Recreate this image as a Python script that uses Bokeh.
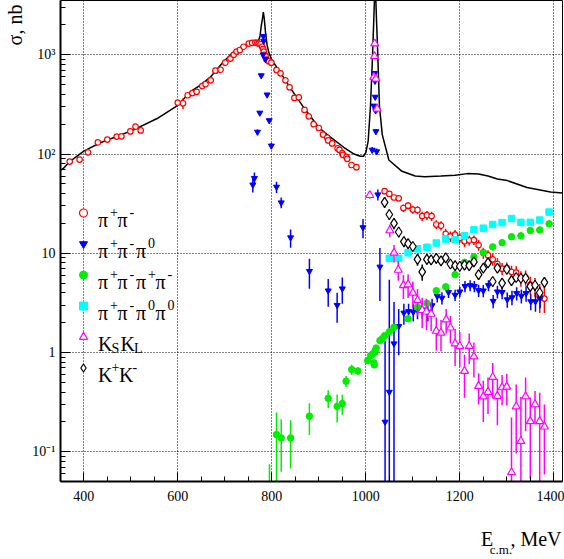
import numpy as np
from bokeh.plotting import figure
from bokeh.models import (Range1d, FixedTicker, Legend, LegendItem, Label, ColumnDataSource,
                          LinearAxis)
from bokeh.embed import file_html
from bokeh.resources import INLINE

# ---------------- data ----------------
xtick_values = [400, 600, 800, 1000, 1200, 1400]
xtick_labels = ["400", "600", "800", "1000", "1200", "1400"]
ytick_values = [0.1, 1, 10, 100, 1000]
ytick_labels = ["10\u207b\u00b9", "1", "10", "10\u00b2", "10\u00b3"]

# model curve (black line)
curve_E = [351, 357, 370, 400, 435, 470, 506, 556, 600, 627,
           648, 670, 698, 719, 740, 755, 765, 772, 775, 777.5,
           780, 782, 784, 786.6, 790, 794, 801, 818, 840, 868,
           900, 918, 953, 975, 988, 995, 1000, 1005, 1010, 1013.6,
           1017, 1019.8, 1022.3, 1025, 1029, 1035, 1049, 1077, 1105, 1125,
           1160, 1190, 1216, 1240, 1260, 1280, 1301, 1343, 1393, 1418]
curve_sig = [69, 72, 84, 107, 130, 150, 175, 228, 310, 425,
             495, 600, 860, 1070, 1250, 1310, 1330, 1400, 1550, 1950,
             2300, 2700, 2300, 1680, 1250, 1040, 870, 665, 459, 294,
             185, 157, 117, 100, 95, 95, 103, 135, 306, 800,
             2260, 6000, 2600, 1160, 306, 157, 87, 67, 60, 59,
             60, 61, 63.5, 63, 60, 56, 54, 46, 41.4, 40.5]

# pi+ pi-
pipi_E = [370, 391, 409, 430, 450, 470, 480, 499, 510, 521,
          600, 611, 621, 631, 640, 652, 659, 670, 680, 691,
          701, 712, 719, 725, 732, 740, 751, 758, 765, 769,
          772, 776, 779.6, 781.7, 783, 784.5, 786.6, 788.7, 793.6, 799,
          810, 818.5, 829, 837.7, 848, 857.5, 869.6, 878.7, 889, 900,
          909, 918, 920, 928.5, 940, 944, 950, 951.5, 959, 960.5,
          969.6, 980,
          1040, 1050, 1060, 1070, 1080, 1090, 1100, 1110, 1120, 1130,
          1140, 1150, 1160, 1170, 1180, 1190, 1200, 1210, 1220, 1230,
          1240, 1250, 1260, 1270, 1280, 1290, 1300, 1310, 1320, 1330,
          1340, 1350, 1360, 1370, 1380]
pipi_sig = [84, 88, 104, 131, 140, 150, 151, 169, 189, 173,
            329, 325, 391, 411, 424, 484, 506, 553, 692, 707,
            832, 916, 1000, 1078, 1117, 1205, 1297, 1318, 1327, 1318,
            1297, 1277, 1205, 1143, 1078, 1000, 966, 895, 863, 832,
            701, 651, 553, 470, 368, 373, 278, 240, 200, 183,
            157, 146, 137, 128, 114, 110, 102, 98, 93.5, 89.5,
            77.6, 73.8,
            42.3, 39.6, 36.5, 35.8, 28.6, 30.2, 27.6, 27.3, 23.7, 24.2,
            23.7, 19.5, 19.0, 15.7, 14.8, 15.4, 14.3, 13.2, 13.5, 13.6,
            12.1, 10.1, 9.55, 8.7, 7.8, 7.0, 7.1, 6.5, 6.4, 5.6,
            5.7, 4.8, 4.65, 3.7, 3.5]
pipi_err = [3, 4, 4, 5, 5, 6, 6, 7, 8, 7,
            12, 40, 14, 14, 14, 15, 15, 15, 18, 18,
            20, 20, 22, 22, 22, 24, 25, 25, 25, 25,
            25, 25, 24, 23, 22, 20, 20, 18, 18, 17,
            15, 14, 12, 10, 9, 9, 7, 6, 6, 5,
            5, 5, 5, 4, 4, 4, 4, 3.5, 3.5, 3.5,
            3, 3,
            2, 2, 2, 2, 2.5, 2.5, 2.5, 2.5, 2.5, 2.5,
            2.5, 2, 2, 2, 1.8, 1.8, 1.6, 1.6, 1.5, 1.5,
            1.5, 1.3, 1.2, 1.2, 1.1, 1.0, 1.0, 1.0, 1.0, 1.0,
            1.0, 1.0, 1.0, 1.2, 1.0]

# pi+ pi- pi0
pi3_E = [759.6, 763, 769.5, 774.5, 777.5, 781.5, 782, 782.8, 786.6, 790,
         794.5, 799, 810, 820, 840, 880, 920, 939, 950, 994,
         1013.6, 1017, 1019, 1019.5, 1020, 1021, 1021.5, 1023, 1025.6, 1030,
         1041, 1050, 1060, 1070, 1081, 1091, 1101, 1110, 1120, 1132,
         1141, 1152, 1162, 1176, 1190, 1200, 1211, 1222, 1231, 1240,
         1250, 1261, 1271, 1280, 1290, 1301, 1311, 1321, 1331, 1341,
         1351, 1361, 1371]
pi3_sig = [49, 57, 167, 260, 618, 1000, 1540, 1380, 905, 396,
           218, 121, 46.6, 32.4, 14.4, 6.6, 4.2, 3.0, 4.4, 18.2,
           110, 306, 652, 545, 376, 274, 169, 106, 39, 7.3,
           0.2, 0.4, 1.23, 1.84, 2.51, 2.6, 2.56, 2.67, 2.7, 2.56,
           2.98, 3.7, 3.55, 4.05, 3.8, 4.1, 4.65, 4.75, 4.65, 4.23,
           4.2, 4.75, 3.3, 4.1, 4.05, 3.42, 3.59, 3.95, 3.72, 3.95,
           3.27, 3.27, 3.5]
pi3_err = [8, 8, 10, 12, 25, 35, 50, 45, 30, 15,
           10, 8, 6, 4, 3, 2.2, 1.3, 1.0, 1.3, 4,
           8, 12, 25, 22, 15, 12, 10, 8, 5, 4,
           1.1, 5.0, 2.0, 0.9, 0.6, 0.5, 0.5, 0.5, 0.5, 0.5,
           0.5, 0.5, 0.5, 0.5, 0.5, 0.5, 0.6, 0.6, 0.6, 0.6,
           0.6, 0.6, 0.5, 0.6, 0.6, 0.6, 0.6, 0.6, 0.6, 0.7,
           0.6, 0.7, 0.7]

# pi+ pi- pi+ pi-
pi4c_E = [795, 810, 820, 840, 880, 920, 939, 950, 958, 970,
          983, 1004, 1010, 1015, 1017, 1018, 1019, 1020, 1022, 1030,
          1035, 1040, 1050, 1060, 1090, 1110, 1130, 1150, 1170, 1190,
          1210, 1230, 1250, 1270, 1290, 1310, 1330, 1350, 1370, 1390]
pi4c_sig = [0.03, 0.149, 0.138, 0.138, 0.228, 0.346, 0.287, 0.306, 0.515, 0.673,
            0.653, 0.83, 0.93, 0.97, 0.79, 0.75, 1.0, 1.05, 1.11, 1.32,
            1.38, 1.48, 1.62, 1.8, 2.19, 2.86, 3.14, 4.2, 4.6, 6.1,
            8.1, 9.2, 10.2, 11.6, 12.8, 14.7, 15.0, 17.0, 17.2, 19.8]
pi4c_err = [0.045, 0.1, 0.075, 0.07, 0.08, 0.07, 0.09, 0.07, 0.065, 0.08,
            0.06, 0.05, 0.05, 0.05, 0.05, 0.05, 0.05, 0.05, 0.05, 0.06,
            0.06, 0.06, 0.07, 0.08, 0.1, 0.15, 0.15, 0.2, 0.2, 0.25,
            0.3, 0.3, 0.3, 0.35, 0.35, 0.4, 0.4, 0.4, 0.45, 0.5]

# pi+ pi- pi0 pi0
pi4n_E = [1050, 1070, 1090, 1110, 1130, 1150, 1170, 1190, 1210, 1230,
          1250, 1270, 1290, 1310, 1330, 1350, 1370, 1390]
pi4n_sig = [8.9, 8.9, 10.1, 11.1, 11.5, 12.7, 13.9, 13.7, 15.0, 17.3,
            17.9, 19.5, 20.4, 22.4, 20.5, 20.5, 21.6, 26.0]
pi4n_err = [0.5, 0.5, 0.5, 0.5, 0.5, 0.5, 0.5, 0.5, 0.6, 0.6,
            0.6, 0.6, 0.6, 0.7, 0.7, 0.7, 0.7, 0.8]

# KS KL
kskl_E = [1008.5, 1017, 1018.5, 1019, 1021.5, 1024, 1051, 1060, 1069, 1080,
          1090, 1100, 1110, 1120, 1129, 1139, 1150, 1160, 1171, 1180,
          1190, 1200, 1210, 1220, 1230, 1240, 1250, 1260, 1270, 1280,
          1290, 1300, 1310, 1320, 1330, 1340, 1350, 1360, 1370, 1380]
kskl_sig = [38.5, 596, 966, 1298, 574, 286, 17, 10.1, 6.8, 4.76,
            4.85, 4.0, 3.36, 2.67, 2.58, 2.45, 1.65, 1.58, 2.15, 1.78,
            1.23, 1.16, 0.65, 1.16, 0.91, 0.46, 0.36, 0.40, 0.565, 0.365,
            0.445, 0.452, 0.062, 0.286, 0.128, 0.361, 0.203, 0.30, 0.203, 0.179]
kskl_err = [3, 40, 60, 80, 40, 25, 2.5, 2.0, 1.5, 1.3,
            1.3, 1.2, 1.0, 0.9, 0.9, 0.8, 0.6, 0.55, 0.6, 0.55,
            0.5, 0.45, 0.3, 0.4, 0.35, 0.16, 0.16, 0.16, 0.22, 0.18,
            0.15, 0.16, 0.16, 0.19, 0.23, 0.2, 0.15, 0.11, 0.19, 0.12]

# K+ K-
kk_E = [1040, 1050, 1060, 1070, 1081, 1090, 1100, 1110, 1120, 1130,
        1139, 1150, 1160, 1170, 1180, 1190, 1200, 1210, 1220, 1230,
        1240, 1250, 1260, 1270, 1280, 1290, 1300, 1310, 1320, 1330,
        1340, 1350, 1360, 1370, 1380]
kk_sig = [32.6, 24.6, 20.0, 16.4, 13.1, 12.5, 11.7, 8.7, 6.5, 8.7,
          8.6, 8.9, 8.4, 9.0, 7.8, 7.5, 7.4, 7.6, 7.5, 8.2,
          6.1, 7.1, 8.0, 5.2, 7.1, 5.0, 6.9, 5.3, 5.7, 5.6,
          5.6, 4.65, 4.76, 4.0, 5.1]
kk_err = [4, 3, 2.5, 2, 1.6, 1.4, 1.3, 1.2, 1.2, 1.0,
          1.0, 1.0, 0.9, 0.9, 0.8, 0.8, 0.8, 0.8, 0.8, 0.8,
          0.7, 0.7, 0.7, 0.6, 0.7, 0.6, 0.7, 0.6, 0.6, 0.6,
          0.6, 0.6, 0.6, 0.6, 0.6]

# ---------------- figure ----------------
FONT = "Liberation Serif"
X0, X1 = 350.4, 1418.5
Y0, Y1 = 0.0502, 3524.0
FX0, FX1, FY0, FY1 = 60, 562, 502, 0   # frame edges in page pixels


def px_to_x(px):
    return X0 + (px - FX0) * (X1 - X0) / (FX1 - FX0)


def py_to_y(py):
    l0, l1 = np.log10(Y0), np.log10(Y1)
    return 10 ** (l0 + (FY0 - py) * (l1 - l0) / (FY0 - FY1))


p = figure(width=564, height=559,
           x_range=Range1d(X0, X1), y_range=Range1d(Y0, Y1),
           y_axis_type="log", output_backend="svg", toolbar_location=None,
           min_border_left=60, min_border_right=2, min_border_top=0, min_border_bottom=57)
p.background_fill_color = "white"
p.border_fill_color = "white"
p.outline_line_color = "black"
p.outline_line_width = 1

xt = FixedTicker(ticks=xtick_values, minor_ticks=list(range(350, 1420, 50)))
yt = FixedTicker(ticks=ytick_values,
                 minor_ticks=[k * 10.0 ** d for d in range(-2, 4) for k in range(2, 10)])
p.xaxis.ticker = xt
p.yaxis.ticker = yt
p.xgrid.ticker = xt
p.ygrid.ticker = yt
p.xaxis.major_label_overrides = dict(zip(xtick_values, xtick_labels))
p.yaxis.major_label_overrides = dict(zip(ytick_values, ytick_labels))

for ax in (p.xaxis[0], p.yaxis[0]):
    ax.axis_line_width = 2
    ax.axis_line_color = "black"
    ax.major_tick_out = 0
    ax.minor_tick_out = 0
    ax.major_tick_line_color = "black"
    ax.minor_tick_line_color = "black"
    ax.major_label_text_font = FONT
    ax.major_label_text_font_size = "14px"
    ax.major_label_text_color = "black"
p.xaxis.major_tick_in = 9
p.xaxis.minor_tick_in = 5
p.yaxis.major_tick_in = 10
p.yaxis.minor_tick_in = 5
p.xaxis.major_label_standoff = 9
p.yaxis.major_label_standoff = 5


# titles drawn as label-only axes (ROOT style positions)
def text_axis(place, ticks, labels, size, standoff, orientation="horizontal"):
    ax = LinearAxis(ticker=FixedTicker(ticks=ticks),
                    major_label_overrides=dict(zip(ticks, labels)),
                    axis_line_color=None, major_tick_line_color=None,
                    minor_tick_line_color=None, major_label_standoff=standoff,
                    major_label_orientation=orientation,
                    major_label_text_font=FONT, major_label_text_font_size=size,
                    major_label_text_color="black")
    p.add_layout(ax, place)
    return ax


title_y = ["\u03c3, nb"]
title_main = ["E", ", MeV"]
title_sub = ["c.m."]
text_axis("left", [py_to_y(17)], title_y, "20px", -3, "vertical")
text_axis("below", [px_to_x(486.5), px_to_x(535.5)], title_main, "20px", 18)
text_axis("below", [px_to_x(500.5)], title_sub, "13px", -17)

for g in (p.xgrid[0], p.ygrid[0]):
    g.grid_line_color = "black"
    g.grid_line_dash = "1 2"
    g.grid_line_width = 1
    g.grid_line_alpha = 1.0

# model curve
p.line(curve_E, curve_sig, line_color="black", line_width=1.5)


def series(E, sig, err, marker, color, size, fill, lw=1.0):
    assert len(E) == len(sig) == len(err)
    lo = [max(s - e, 1e-4) for s, e in zip(sig, err)]
    hi = [s + e for s, e in zip(sig, err)]
    src = ColumnDataSource(dict(x=E, y=sig, lo=lo, hi=hi))
    p.segment(x0="x", y0="lo", x1="x", y1="hi", source=src, line_color=color, line_width=1.5)
    return p.scatter(x="x", y="y", source=src, marker=marker, size=size,
                     line_color=color, fill_color=fill, line_width=lw)


r_pipi = series(pipi_E, pipi_sig, pipi_err, "circle", "#ff0000", 5.5, "white", 1.2)
r_pi3 = series(pi3_E, pi3_sig, pi3_err, "inverted_triangle", "#0000ff", 6, "#0000ff")
r_pi4c = series(pi4c_E, pi4c_sig, pi4c_err, "circle", "#00ee00", 6.5, "#00ee00")
r_pi4n = series(pi4n_E, pi4n_sig, pi4n_err, "square", "#00ffff", 6.5, "#00ffff")
r_kskl = series(kskl_E, kskl_sig, kskl_err, "triangle", "#ff00ff", 8, "white", 1.2)
r_kk = series(kk_E, kk_sig, kk_err, "diamond", "black", 10, "white", 1.2)

legend = Legend(items=[LegendItem(label=" ", renderers=[r]) for r in
                       (r_pipi, r_pi3, r_pi4c, r_pi4n, r_kskl, r_kk)],
                location=(13, 103), orientation="vertical",
                glyph_width=20, glyph_height=21, label_height=21, label_width=1,
                spacing=10, padding=0, margin=0, label_standoff=0,
                border_line_alpha=0, background_fill_alpha=0,
                label_text_font_size="2px")
p.add_layout(legend, "center")

# legend texts (ROOT-like super/subscripts)
leg_pieces = [
    [("\u03c0", "n"), ("+", "sup"), ("\u03c0", "n"), ("-", "sup")],
    [("\u03c0", "n"), ("+", "sup"), ("\u03c0", "n"), ("-", "sup"), ("\u03c0", "n"), ("0", "sup")],
    [("\u03c0", "n"), ("+", "sup"), ("\u03c0", "n"), ("-", "sup"),
     ("\u03c0", "n"), ("+", "sup"), ("\u03c0", "n"), ("-", "sup")],
    [("\u03c0", "n"), ("+", "sup"), ("\u03c0", "n"), ("-", "sup"),
     ("\u03c0", "n"), ("0", "sup"), ("\u03c0", "n"), ("0", "sup")],
    [("K", "n"), ("S", "sub"), ("K", "n"), ("L", "sub")],
    [("K", "n"), ("+", "sup"), ("K", "n"), ("-", "sup")],
]
advance = {"\u03c0": 12.0, "+": 7.5, "-": 6.5, "0": 7.5, "K": 13.5, "S": 9.0, "L": 9.0}
text_x0 = 97.5
for i, pieces in enumerate(leg_pieces):
    center = 234 + 31 * i
    base = center + 6
    x = text_x0
    for txt, kind in pieces:
        if kind == "n":
            yb, fs = base, "20px"
        elif kind == "sup":
            yb, fs = base - 8, "14px"
        else:
            yb, fs = base + 5, "14px"
        p.add_layout(Label(x=x - FX0, y=FY0 - yb, x_units="screen", y_units="screen",
                           text=txt, text_font=FONT, text_font_size=fs, text_color="black",
                           text_align="left", text_baseline="alphabetic"))
        x += advance[txt]

open("out.html", "w").write(file_html(p, INLINE))
